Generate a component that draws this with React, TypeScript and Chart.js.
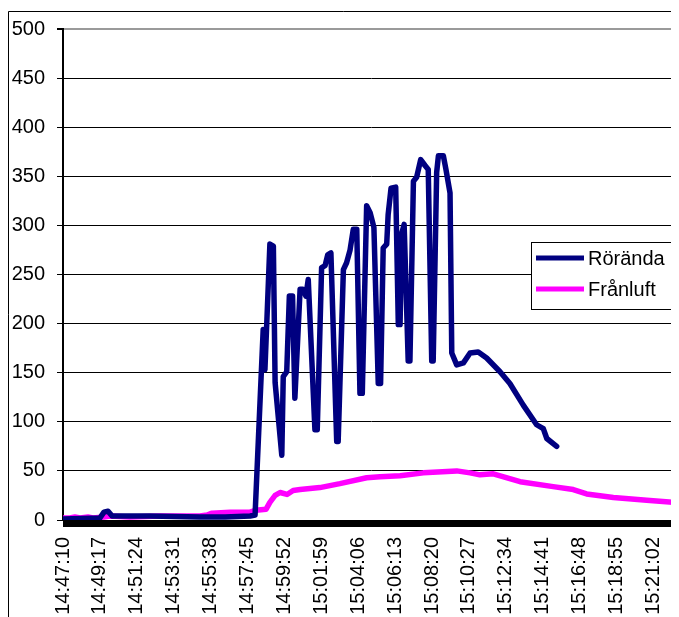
import { useEffect, useRef } from "react";
import { Chart, registerables } from "chart.js";

Chart.register(...registerables);

// Time-axis labels (every 2 min 7 s)
const xTickLabels = [
  "14:47:10", "14:49:17", "14:51:24", "14:53:31", "14:55:38", "14:57:45",
  "14:59:52", "15:01:59", "15:04:06", "15:06:13", "15:08:20", "15:10:27",
  "15:12:34", "15:14:41", "15:16:48", "15:18:55", "15:21:02",
];
const axisStart = "14:47:10";
const axisEnd = "15:22:30";

// Rörända
const roerandaTimes = [
  "14:47:10", "14:49:17", "14:49:31", "14:49:45", "14:49:59", "14:52:09", "14:55:01",
  "14:56:28", "14:57:54", "14:58:11", "14:58:39", "14:58:45", "14:59:02", "14:59:14",
  "14:59:20", "14:59:43", "14:59:48", "15:00:00", "15:00:09", "15:00:20", "15:00:28",
  "15:00:46", "15:00:56", "15:01:06", "15:01:14", "15:01:37", "15:01:45", "15:02:00",
  "15:02:12", "15:02:21", "15:02:32", "15:02:52", "15:02:57", "15:03:15", "15:03:26",
  "15:03:38", "15:03:49", "15:04:01", "15:04:12", "15:04:20", "15:04:35", "15:04:47",
  "15:05:00", "15:05:15", "15:05:23", "15:05:32", "15:05:44", "15:05:49", "15:05:59",
  "15:06:15", "15:06:24", "15:06:30", "15:06:36", "15:06:44", "15:06:49", "15:06:58",
  "15:07:04", "15:07:16", "15:07:27", "15:07:41", "15:07:56", "15:08:07", "15:08:19",
  "15:08:24", "15:08:36", "15:08:42", "15:08:59", "15:09:08", "15:09:22", "15:09:28",
  "15:09:45", "15:10:08", "15:10:31", "15:10:59", "15:11:28", "15:12:14", "15:12:48",
  "15:13:34", "15:14:20", "15:14:43", "15:14:55", "15:15:29",
];
const roerandaValues = [
  1, 2, 8, 9, 4, 4, 3,
  3, 4, 5, 194, 153, 281, 279,
  140, 66, 146, 151, 228, 228, 124,
  235, 235, 228, 245, 92, 92, 257,
  259, 270, 272, 80, 80, 255, 262,
  275, 296, 296, 129, 129, 320, 313,
  298, 139, 139, 277, 281, 311, 338,
  339, 199, 199, 292, 301, 252, 162,
  162, 345, 349, 367, 361, 357, 162,
  162, 354, 371, 371, 357, 333, 170,
  158, 160, 170, 171, 165, 151, 139,
  117, 97, 93, 83, 75,
];

// Frånluft
const franluftTimes = [
  "14:47:10", "14:47:34", "14:47:51", "14:48:09", "14:48:36", "14:48:53", "14:49:31",
  "14:49:52", "14:51:01", "14:52:44", "14:55:01", "14:55:26", "14:55:43", "14:56:45",
  "14:57:54", "14:58:14", "14:58:49", "14:59:02", "14:59:20", "14:59:37", "15:00:01",
  "15:00:22", "15:00:46", "15:01:54", "15:03:03", "15:04:35", "15:05:21", "15:06:30",
  "15:07:50", "15:09:45", "15:10:31", "15:11:05", "15:11:51", "15:13:23", "15:15:17",
  "15:16:26", "15:17:12", "15:18:44", "15:20:39", "15:22:30",
];
const franluftValues = [
  2, 2, 3, 2, 3, 2, 3,
  4, 3, 4, 4, 5, 7, 8,
  8, 10, 11, 18, 25, 28, 26,
  30, 31, 33, 37, 43, 44, 45,
  48, 50, 48, 46, 47, 39, 34,
  31, 26.5, 23, 20, 17.5,
];

const FONT = "'Liberation Sans', Arial, sans-serif";

function toSec(hms: string): number {
  const [h, m, s] = hms.split(":").map(Number);
  return h * 3600 + m * 60 + s;
}

function fmt(sec: number): string {
  const h = Math.floor(sec / 3600);
  const m = Math.floor((sec % 3600) / 60);
  const s = Math.round(sec % 60);
  const p = (n: number) => String(n).padStart(2, "0");
  return `${p(h)}:${p(m)}:${p(s)}`;
}

// Thick black base line under the zero level
const baseBar = {
  id: "baseBar",
  beforeDatasetsDraw(chart: any) {
    const { ctx, chartArea, scales } = chart;
    const y0 = scales.y.getPixelForValue(0);
    ctx.save();
    ctx.fillStyle = "#000";
    ctx.fillRect(chartArea.left, y0, chartArea.right - chartArea.left, 7);
    ctx.restore();
  },
};

// Outer frame (left and top edges) and the boxed legend
const frameAndLegend = {
  id: "frameAndLegend",
  afterDraw(chart: any) {
    const { ctx, width, height } = chart;
    ctx.save();
    ctx.strokeStyle = "#000";
    ctx.lineWidth = 1;
    ctx.beginPath();
    ctx.moveTo(0.5, height);
    ctx.lineTo(0.5, 3.5);
    ctx.lineTo(width, 3.5);
    ctx.stroke();

    const bx = 523.5, by = 234.5, bw = 147, bh = 67;
    ctx.fillStyle = "#fff";
    ctx.fillRect(bx, by, bw, bh);
    ctx.strokeRect(bx, by, bw, bh);

    const rows = [250, 281];
    chart.data.datasets.forEach((ds: any, i: number) => {
      const y = rows[i];
      ctx.strokeStyle = ds.borderColor;
      ctx.lineWidth = 5;
      ctx.beginPath();
      ctx.moveTo(528, y);
      ctx.lineTo(576, y);
      ctx.stroke();
      ctx.fillStyle = "#000";
      ctx.font = `20px ${FONT}`;
      ctx.textBaseline = "middle";
      ctx.textAlign = "left";
      ctx.fillText(ds.label, 580, y + 1);
    });
    ctx.restore();
  },
};

export default function App() {
  const canvasRef = useRef<HTMLCanvasElement | null>(null);

  useEffect(() => {
    document.documentElement.style.overflow = "hidden";
    document.body.style.overflow = "hidden";
    const canvas = canvasRef.current;
    if (!canvas) return;

    const chart = new Chart(canvas, {
      type: "line",
      data: {
        datasets: [
          {
            label: "Rörända",
            data: roerandaTimes.map((t, i) => ({ x: toSec(t), y: roerandaValues[i] })),
            borderColor: "#000080",
            backgroundColor: "#000080",
            borderWidth: 5.5,
            pointRadius: 0,
            tension: 0,
            borderJoinStyle: "round",
            borderCapStyle: "round",
          },
          {
            label: "Frånluft",
            data: franluftTimes.map((t, i) => ({ x: toSec(t), y: franluftValues[i] })),
            borderColor: "#FF00FF",
            backgroundColor: "#FF00FF",
            borderWidth: 5.5,
            pointRadius: 0,
            tension: 0,
            borderJoinStyle: "round",
            borderCapStyle: "butt",
          },
        ],
      },
      options: {
        responsive: false,
        animation: false,
        layout: { padding: { top: 21, left: 0, right: 0, bottom: 0 } },
        plugins: {
          legend: { display: false },
          tooltip: { enabled: false },
        },
        scales: {
          x: {
            type: "linear",
            min: toSec(axisStart),
            max: toSec(axisEnd),
            grid: { display: false, drawTicks: false },
            border: { display: false },
            afterBuildTicks: (scale: any) => {
              scale.ticks = xTickLabels.map((l) => ({ value: toSec(l) }));
            },
            afterFit: (scale: any) => {
              scale.height = 97;
              scale.paddingLeft = 0;
              scale.paddingRight = 0;
            },
            ticks: {
              autoSkip: false,
              minRotation: 90,
              maxRotation: 90,
              padding: 17,
              color: "#000",
              font: { family: FONT, size: 20 },
              callback: (v: any) => fmt(Number(v)),
            },
          },
          y: {
            min: 0,
            max: 500,
            afterFit: (scale: any) => {
              scale.width = 55;
              scale.paddingTop = 0;
              scale.paddingBottom = 0;
            },
            ticks: {
              stepSize: 50,
              padding: 12,
              color: "#000",
              font: { family: FONT, size: 20 },
            },
            grid: {
              color: (c: any) => (c.tick && c.tick.value === 500 ? "#9a9a9a" : "#000"),
              lineWidth: (c: any) => (c.tick && c.tick.value === 500 ? 2 : 1),
              tickColor: "#000",
              tickLength: 6,
            },
            border: { color: "#000", width: 2 },
          },
        },
      },
      plugins: [baseBar, frameAndLegend],
    });

    return () => chart.destroy();
  }, []);

  return (
    <div style={{ width: 671, height: 609 }}>
      <canvas ref={canvasRef} width={671} height={609} style={{ display: "block" }} />
    </div>
  );
}
